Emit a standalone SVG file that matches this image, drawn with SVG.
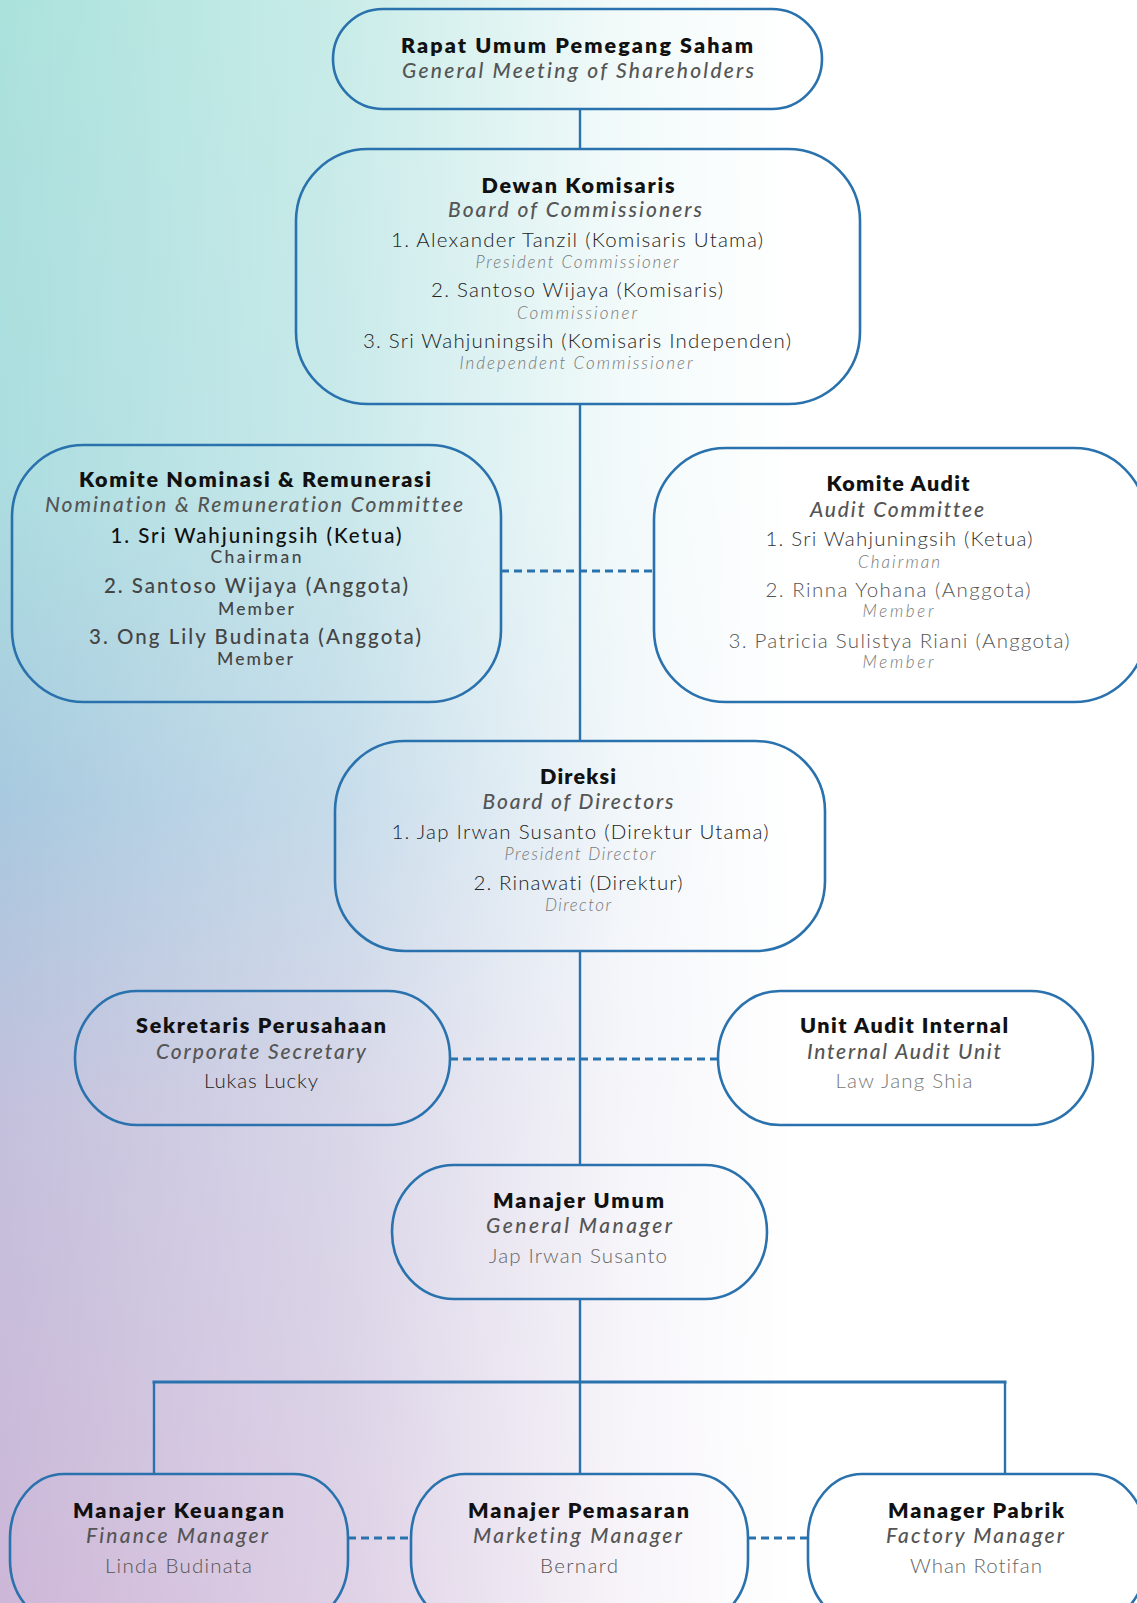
<svg xmlns="http://www.w3.org/2000/svg" width="1137" height="1603" viewBox="0 0 1137 1603">
<defs>
<linearGradient id="bgv" x1="0" y1="0" x2="0" y2="1">
<stop offset="0" stop-color="#abe2dc"/>
<stop offset="0.3" stop-color="#acdde0"/>
<stop offset="0.5" stop-color="#a8c9df"/>
<stop offset="0.7" stop-color="#c4c0dc"/>
<stop offset="1" stop-color="#cdb7d8"/>
</linearGradient>
<linearGradient id="bgh" x1="0" y1="0" x2="1" y2="0">
<stop offset="0" stop-color="#ffffff" stop-opacity="0"/>
<stop offset="0.3" stop-color="#ffffff" stop-opacity="0.35"/>
<stop offset="0.55" stop-color="#ffffff" stop-opacity="0.85"/>
<stop offset="0.7" stop-color="#ffffff" stop-opacity="1"/>
<stop offset="1" stop-color="#ffffff" stop-opacity="1"/>
</linearGradient>
<style>
.box{fill:none;stroke:#2a72ad;stroke-width:2.6}
.ln{fill:none;stroke:#2a72ad;stroke-width:2.4}
.dash{fill:none;stroke:#2a72ad;stroke-width:3;stroke-dasharray:8 5}
text{font-family:Lato,"Noto Sans","Liberation Sans",sans-serif;text-anchor:middle;font-variant-ligatures:none}
.t{font-weight:800;font-size:21.5px;fill:#111}
.s{font-style:italic;font-weight:500;font-size:21px;fill:#555}
.n{font-weight:300;font-size:20.5px;fill:#222}
.r{font-style:italic;font-weight:300;font-size:17px;fill:#777}
.m{font-weight:500;font-size:20.5px;fill:#444}
.mr{font-weight:500;font-size:17.5px;fill:#444}
.g{font-weight:300;font-size:20.5px;fill:#666}
</style>
</defs>
<rect width="1137" height="1603" fill="url(#bgv)"/>
<rect width="1137" height="1603" fill="url(#bgh)"/>

<g id="connectors">
<line class="ln" x1="580" y1="109" x2="580" y2="149"/>
<line class="ln" x1="580" y1="404" x2="580" y2="741"/>
<line class="ln" x1="580" y1="951" x2="580" y2="1165"/>
<line class="ln" x1="580" y1="1299" x2="580" y2="1474"/>
<line class="ln" x1="152.5" y1="1382" x2="1006.5" y2="1382" style="stroke-width:3"/>
<line class="ln" x1="154" y1="1382" x2="154" y2="1474"/>
<line class="ln" x1="1005" y1="1382" x2="1005" y2="1474"/>
<line class="dash" x1="501" y1="571" x2="654" y2="571"/>
<line class="dash" x1="450" y1="1059" x2="718" y2="1059"/>
<line class="dash" x1="348" y1="1538" x2="411" y2="1538"/>
<line class="dash" x1="748" y1="1538" x2="808" y2="1538"/>
</g>

<g id="rups">
<rect class="box" x="333" y="9" width="489" height="100" rx="50" ry="50"/>
<text class="t" x="577" y="53" textLength="352" lengthAdjust="spacing">Rapat Umum Pemegang Saham</text>
<text class="s" x="578" y="78" textLength="352" lengthAdjust="spacing">General Meeting of Shareholders</text>
</g>

<g id="dewan-komisaris">
<rect class="box" x="296" y="149" width="564" height="255" rx="72" ry="72"/>
<text class="t" x="578" y="193" textLength="193" lengthAdjust="spacing">Dewan Komisaris</text>
<text class="s" x="575" y="217" textLength="254" lengthAdjust="spacing">Board of Commissioners</text>
<text class="n" x="577" y="247" textLength="372" lengthAdjust="spacing">1. Alexander Tanzil (Komisaris Utama)</text>
<text class="r" x="577" y="268" textLength="203" lengthAdjust="spacing">President Commissioner</text>
<text class="n" x="577" y="297" textLength="292" lengthAdjust="spacing">2. Santoso Wijaya (Komisaris)</text>
<text class="r" x="577" y="319" textLength="120" lengthAdjust="spacing">Commissioner</text>
<text class="n" x="577" y="348" textLength="428" lengthAdjust="spacing">3. Sri Wahjuningsih (Komisaris Independen)</text>
<text class="r" x="576" y="369" textLength="233" lengthAdjust="spacing">Independent Commissioner</text>
</g>

<g id="komite-nominasi">
<rect class="box" x="12" y="445" width="489" height="257" rx="72" ry="72"/>
<text class="t" x="255" y="487" textLength="352" lengthAdjust="spacing">Komite Nominasi &amp; Remunerasi</text>
<text class="s" x="254" y="512" textLength="418" lengthAdjust="spacing">Nomination &amp; Remuneration Committee</text>
<text class="m" x="256" y="543" textLength="291" lengthAdjust="spacing" style="fill:#111">1. Sri Wahjuningsih (Ketua)</text>
<text class="mr" x="256" y="563" textLength="91" lengthAdjust="spacing">Chairman</text>
<text class="m" x="256" y="593" textLength="304" lengthAdjust="spacing">2. Santoso Wijaya (Anggota)</text>
<text class="mr" x="256" y="615" textLength="76" lengthAdjust="spacing">Member</text>
<text class="m" x="255" y="644" textLength="332" lengthAdjust="spacing">3. Ong Lily Budinata (Anggota)</text>
<text class="mr" x="255" y="665" textLength="76" lengthAdjust="spacing">Member</text>
</g>

<g id="komite-audit">
<rect class="box" x="654" y="448" width="492" height="254" rx="72" ry="72"/>
<text class="t" x="898" y="491" textLength="143" lengthAdjust="spacing">Komite Audit</text>
<text class="s" x="897" y="517" textLength="174" lengthAdjust="spacing">Audit Committee</text>
<text class="n" x="899" y="546" textLength="267" lengthAdjust="spacing" style="fill:#333">1. Sri Wahjuningsih (Ketua)</text>
<text class="r" x="899" y="568" textLength="82" lengthAdjust="spacing">Chairman</text>
<text class="n" x="898" y="597" textLength="265" lengthAdjust="spacing" style="fill:#555">2. Rinna Yohana (Anggota)</text>
<text class="r" x="898" y="617" textLength="71" lengthAdjust="spacing">Member</text>
<text class="n" x="899" y="648" textLength="341" lengthAdjust="spacing" style="fill:#555">3. Patricia Sulistya Riani (Anggota)</text>
<text class="r" x="898" y="668" textLength="71" lengthAdjust="spacing">Member</text>
</g>

<g id="direksi">
<rect class="box" x="335" y="741" width="490" height="210" rx="70" ry="70"/>
<text class="t" x="578" y="784" textLength="76" lengthAdjust="spacing">Direksi</text>
<text class="s" x="578" y="809" textLength="191" lengthAdjust="spacing">Board of Directors</text>
<text class="n" x="580" y="839" textLength="377" lengthAdjust="spacing">1. Jap Irwan Susanto (Direktur Utama)</text>
<text class="r" x="580" y="860" textLength="151" lengthAdjust="spacing">President Director</text>
<text class="n" x="578" y="890" textLength="209" lengthAdjust="spacing">2. Rinawati (Direktur)</text>
<text class="r" x="578" y="911" textLength="66" lengthAdjust="spacing">Director</text>
</g>

<g id="sekretaris-perusahaan">
<rect class="box" x="75" y="991" width="375" height="134" rx="62" ry="67"/>
<text class="t" x="261" y="1033" textLength="250" lengthAdjust="spacing">Sekretaris Perusahaan</text>
<text class="s" x="261" y="1059" textLength="210" lengthAdjust="spacing">Corporate Secretary</text>
<text class="n" x="261" y="1088" textLength="114" lengthAdjust="spacing">Lukas Lucky</text>
</g>

<g id="unit-audit-internal">
<rect class="box" x="718" y="991" width="375" height="134" rx="62" ry="67"/>
<text class="t" x="904" y="1033" textLength="208" lengthAdjust="spacing">Unit Audit Internal</text>
<text class="s" x="904" y="1059" textLength="194" lengthAdjust="spacing">Internal Audit Unit</text>
<text class="g" x="904" y="1088" textLength="137" lengthAdjust="spacing" style="fill:#777">Law Jang Shia</text>
</g>

<g id="manajer-umum">
<rect class="box" x="392" y="1165" width="375" height="134" rx="62" ry="67"/>
<text class="t" x="578.5" y="1208" textLength="171" lengthAdjust="spacing">Manajer Umum</text>
<text class="s" x="579" y="1233" textLength="186" lengthAdjust="spacing">General Manager</text>
<text class="g" x="578" y="1263" textLength="178" lengthAdjust="spacing">Jap Irwan Susanto</text>
</g>

<g id="manajer-keuangan">
<rect class="box" x="10" y="1474" width="338" height="150" rx="54" ry="64"/>
<text class="t" x="178.5" y="1518" textLength="211" lengthAdjust="spacing">Manajer Keuangan</text>
<text class="s" x="177" y="1543" textLength="182" lengthAdjust="spacing">Finance Manager</text>
<text class="g" x="178.5" y="1573" textLength="147" lengthAdjust="spacing" style="fill:#555">Linda Budinata</text>
</g>

<g id="manajer-pemasaran">
<rect class="box" x="411" y="1474" width="337" height="150" rx="54" ry="64"/>
<text class="t" x="578.5" y="1518" textLength="221" lengthAdjust="spacing">Manajer Pemasaran</text>
<text class="s" x="577.5" y="1543" textLength="209" lengthAdjust="spacing">Marketing Manager</text>
<text class="g" x="579" y="1573" textLength="78" lengthAdjust="spacing" style="fill:#555">Bernard</text>
</g>

<g id="manager-pabrik">
<rect class="box" x="808" y="1474" width="338" height="150" rx="54" ry="64"/>
<text class="t" x="976" y="1518" textLength="176" lengthAdjust="spacing">Manager Pabrik</text>
<text class="s" x="975" y="1543" textLength="178" lengthAdjust="spacing">Factory Manager</text>
<text class="g" x="976" y="1573" textLength="132" lengthAdjust="spacing">Whan Rotifan</text>
</g>
</svg>
